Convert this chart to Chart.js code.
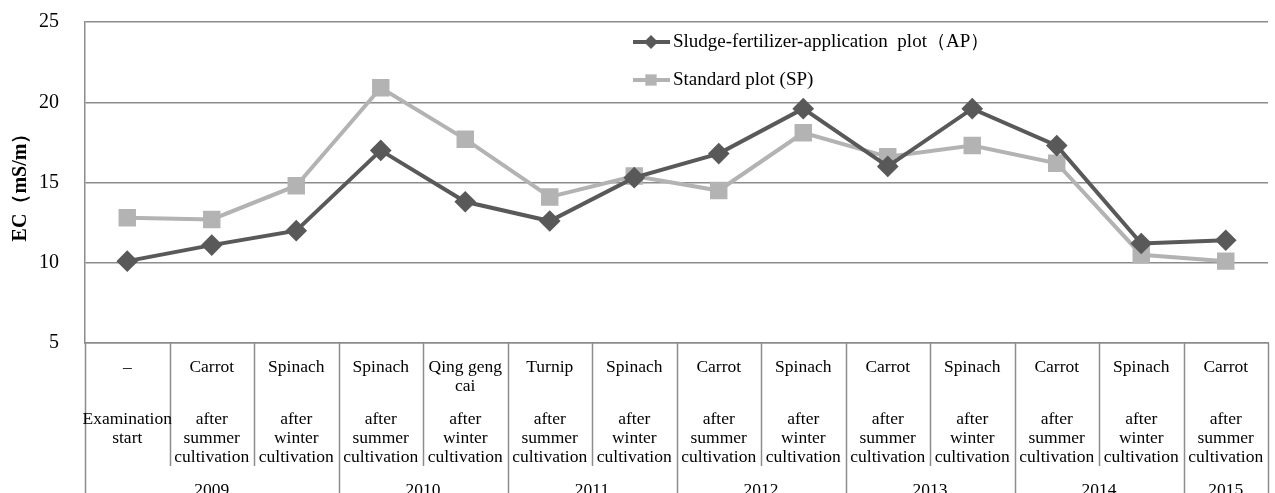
<!DOCTYPE html>
<html>
<head>
<meta charset="utf-8">
<script src="https://cdn.jsdelivr.net/npm/chart.js@4"></script>
<style>
  html, body { margin: 0; padding: 0; background: #fff; overflow: hidden; }
  #wrap { width: 1275px; height: 493px; position: relative; }
  canvas { display: block; }
</style>
</head>
<body>
<div id="wrap"><canvas id="ecChart"></canvas></div>
<script>
// crop grown before each sampling, sampling timing and year groups
var crops = [['\u2013'], ['Carrot'], ['Spinach'], ['Spinach'], ['Qing geng', 'cai'], ['Turnip'], ['Spinach'],
    ['Carrot'], ['Spinach'], ['Carrot'], ['Spinach'], ['Carrot'], ['Spinach'], ['Carrot']];
var summer = ['after', 'summer', 'cultivation'];
var winter = ['after', 'winter', 'cultivation'];
var stages = [['Examination', 'start'], summer, winter, summer, winter, summer, winter,
    summer, winter, summer, winter, summer, winter, summer];
var years = ['2009', '2010', '2011', '2012', '2013', '2014', '2015'];
var yearSpans = [3, 2, 2, 2, 2, 2, 1];

// EC in mS/m
var apValues = [10.1, 11.1, 12.0, 17.0, 13.8, 12.6, 15.3, 16.8, 19.6, 16.0, 19.6, 17.3, 11.2, 11.4];
var spValues = [12.8, 12.7, 14.8, 20.9, 17.7, 14.1, 15.4, 14.5, 18.1, 16.6, 17.3, 16.2, 10.5, 10.1];

var yTicks = [5, 10, 15, 20, 25];

var serif = '"Liberation Serif", "Times New Roman", serif';
var lineGrey = '#8c8c8c';

function drawMarker(ctx, style, x, y, r, color) {
    ctx.fillStyle = color;
    ctx.beginPath();
    if (style === 'rectRot') {
        ctx.moveTo(x - r, y);
        ctx.lineTo(x, y - r);
        ctx.lineTo(x + r, y);
        ctx.lineTo(x, y + r);
    } else {
        var s = Math.SQRT1_2 * r;
        ctx.rect(x - s, y - s, 2 * s, 2 * s);
    }
    ctx.closePath();
    ctx.fill();
}

// category table under the plot + legend inside the plot
var tablePlugin = {
    id: 'cropTable',
    afterDraw: function (chart) {
        var ctx = chart.ctx;
        var x = chart.scales.x;
        var area = chart.chartArea;
        var colW = x.getPixelForValue(1) - x.getPixelForValue(0);
        var top = area.bottom;
        var bottom = chart.height;

        ctx.save();
        ctx.strokeStyle = lineGrey;
        ctx.lineWidth = 1.5;

        // year boundaries run to the bottom, the others stop above the year row
        var bounds = {};
        var acc = 0;
        bounds[0] = true;
        for (var k = 0; k < yearSpans.length; k++) {
            acc += yearSpans[k];
            bounds[acc] = true;
        }
        for (var i = 0; i <= crops.length; i++) {
            var lx = Math.round(x.getPixelForValue(0) - colW / 2 + i * colW) + 0.5;
            ctx.beginPath();
            ctx.moveTo(lx, top);
            ctx.lineTo(lx, bounds[i] ? bottom : top + 123);
            ctx.stroke();
        }

        ctx.fillStyle = '#000';
        ctx.font = '17.5px ' + serif;
        ctx.textAlign = 'center';
        ctx.textBaseline = 'middle';
        for (var j = 0; j < crops.length; j++) {
            var cx = x.getPixelForValue(j);
            crops[j].forEach(function (t, n) {
                ctx.fillText(t, cx, top + 24 + n * 19);
            });
            stages[j].forEach(function (t, n) {
                ctx.fillText(t, cx, top + 76 + n * 19);
            });
        }

        var start = 0;
        for (var y = 0; y < years.length; y++) {
            var mid = (x.getPixelForValue(start) + x.getPixelForValue(start + yearSpans[y] - 1)) / 2;
            ctx.fillText(years[y], mid, top + 147);
            start += yearSpans[y];
        }

        // legend: line swatch with marker, then label
        chart.data.datasets.forEach(function (ds, d) {
            var ly = 42 + d * 38;
            ctx.strokeStyle = ds.borderColor;
            ctx.lineWidth = 4;
            ctx.beginPath();
            ctx.moveTo(633, ly);
            ctx.lineTo(670, ly);
            ctx.stroke();
            drawMarker(ctx, ds.pointStyle, 651, ly, ds.pointStyle === 'rectRot' ? 7 : 8, ds.borderColor);
            ctx.fillStyle = '#000';
            ctx.font = '19px ' + serif;
            ctx.textAlign = 'left';
            ctx.fillText(ds.label, 673, ly);
        });
        ctx.restore();
    }
};

var chart = new Chart(document.getElementById('ecChart'), {
    type: 'line',
    data: {
        labels: crops.map(function (c) { return c.join(' '); }),
        datasets: [
            {
                label: 'Sludge-fertilizer-application  plot\uFF08AP\uFF09',
                data: apValues,
                borderColor: '#595959',
                backgroundColor: '#595959',
                borderWidth: 4,
                pointStyle: 'rectRot',
                pointRadius: 8,
                pointHoverRadius: 8,
                tension: 0
            },
            {
                label: 'Standard plot (SP)',
                data: spValues,
                borderColor: '#b3b3b3',
                backgroundColor: '#b3b3b3',
                borderWidth: 4,
                pointStyle: 'rect',
                pointRadius: 9.5,
                pointHoverRadius: 9.5,
                tension: 0
            }
        ]
    },
    options: {
        responsive: true,
        maintainAspectRatio: false,
        animation: false,
        layout: { autoPadding: false, padding: { top: 22, right: 7, left: 0, bottom: 0 } },
        plugins: {
            legend: { display: false },
            tooltip: { enabled: false }
        },
        scales: {
            x: {
                offset: true,
                grid: { display: false },
                border: { display: true, color: lineGrey, width: 1.5 },
                ticks: { display: false },
                afterFit: function (scale) {
                    scale.height = 150;
                    scale.paddingLeft = 0;
                    scale.paddingRight = 0;
                }
            },
            y: {
                min: yTicks[0],
                max: yTicks[yTicks.length - 1],
                afterBuildTicks: function (scale) {
                    scale.ticks = yTicks.map(function (v) { return { value: v }; });
                },
                grid: { color: lineGrey, lineWidth: 1.5, drawTicks: false },
                border: { display: true, color: lineGrey, width: 1.5 },
                ticks: {
                    padding: 26,
                    color: '#000',
                    font: { family: serif, size: 20 }
                },
                title: {
                    display: true,
                    text: 'EC\uFF08mS/m\uFF09',
                    color: '#000',
                    padding: { top: 9, bottom: 0 },
                    font: { family: serif, size: 20, weight: 'bold' }
                },
                afterFit: function (scale) {
                    scale.width = 85;
                    scale.paddingTop = 0;
                    scale.paddingBottom = 0;
                }
            }
        }
    },
    plugins: [tablePlugin]
});
</script>
</body>
</html>
